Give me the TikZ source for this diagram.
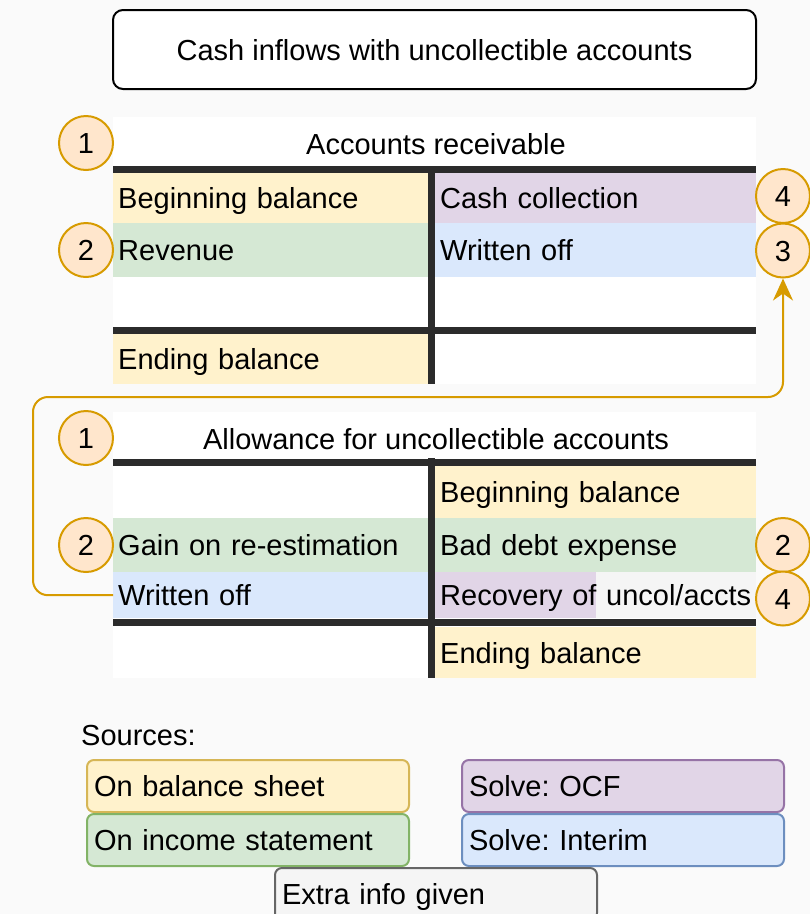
\documentclass[tikz,border=0pt]{standalone}
\usepackage{fontspec}
\setmainfont{Liberation Sans}
\usetikzlibrary{arrows.meta}
\definecolor{bggray}{HTML}{FAFAFA}
\definecolor{cyellow}{HTML}{FFF2CC}
\definecolor{cgreen}{HTML}{D5E8D4}
\definecolor{cpurple}{HTML}{E1D5E7}
\definecolor{cblue}{HTML}{DAE8FC}
\definecolor{cgray}{HTML}{F5F5F5}
\definecolor{syellow}{HTML}{D6B656}
\definecolor{sgreen}{HTML}{82B366}
\definecolor{spurple}{HTML}{9673A6}
\definecolor{sblue}{HTML}{6C8EBF}
\definecolor{sgray}{HTML}{666666}
\definecolor{corange}{HTML}{FFE6CC}
\definecolor{sorange}{HTML}{D79B00}
\definecolor{tline}{HTML}{2B2B2B}
\begin{document}
\begin{tikzpicture}[x=1pt,y=-1pt,
  font=\fontsize{29}{34}\selectfont\frenchspacing,
  txt/.style={text height=21pt,text depth=0pt,inner sep=0pt},
  lcell/.style={txt,rectangle,anchor=north west,inner xsep=5pt,text width=305pt,align=left},
  rcell/.style={txt,rectangle,anchor=north west,inner xsep=5pt,text width=311pt,align=left},
  badge/.style={txt,circle,draw=sorange,fill=corange,line width=2pt,minimum size=54pt},
  tbar/.style={draw=tline,line width=7pt},
  legend/.style={txt,rectangle,rounded corners=7pt,line width=2pt,anchor=north west,
    inner xsep=7pt,text width=308pt,align=left,minimum height=52pt},
  arr/.style={draw=sorange,line width=2pt,rounded corners=15pt,
    -{Stealth[length=22pt,width=20pt,inset=7pt]}}
]
\useasboundingbox[fill=bggray] (0,0) rectangle (810,914);

% title
\node[txt,draw=black,fill=white,line width=2pt,rounded corners=10pt,
  minimum width=643pt,minimum height=79pt] (title) at (434.5,49.5)
  {Cash inflows with uncollectible accounts};

% ---------- Accounts receivable ----------
\fill[white] (113,117) rectangle (756,384);
\node[txt] (artitle) at (436,144) {Accounts receivable};
\node[lcell,fill=cyellow,minimum height=50pt] (arbb) at (113,173) {Beginning balance};
\node[lcell,fill=cgreen,minimum height=54pt] (arrev) at (113,223) {Revenue};
\node[rcell,fill=cpurple,minimum height=50pt] (arcc) at (435,173) {Cash collection};
\node[rcell,fill=cblue,minimum height=54pt] (arwo) at (435,223) {Written off};
\node[lcell,fill=cyellow,minimum height=50pt] (areb) at (113,334) {Ending balance};
\coordinate (art1) at (113,169.5);
\coordinate (art2) at (756,169.5);
\coordinate (arm1) at (113,330);
\coordinate (arm2) at (756,330);
\coordinate (arv1) at (431.5,166);
\coordinate (arv2) at (431.5,384);
\draw[tbar] (art1) -- (art2);
\draw[tbar] (arm1) -- (arm2);
\draw[tbar] (arv1) -- (arv2);

% ---------- Allowance ----------
\fill[white] (113,412) rectangle (756,678);
\node[txt] (altitle) at (436,439) {Allowance for uncollectible accounts};
\node[rcell,fill=cyellow,minimum height=52pt] (albb) at (435,466) {Beginning balance};
\node[lcell,fill=cgreen,minimum height=54pt] (algain) at (113,518) {Gain on re-estimation};
\node[rcell,fill=cgreen,minimum height=54pt] (albad) at (435,518) {Bad debt expense};
\node[lcell,fill=cblue,minimum height=46pt] (alwo) at (113,572) {Written off};
\node[rcell,fill=cgray,minimum height=46pt,
  path picture={\fill[cpurple] (path picture bounding box.north west) rectangle
    ([xshift=161pt]path picture bounding box.south west);}] (alrec) at (435,572)
  {\mbox{Recovery of uncol/accts}\hss};
\node[rcell,fill=cyellow,minimum height=51pt] (aleb) at (435,627) {Ending balance};
\coordinate (alt1) at (113,462);
\coordinate (alt2) at (756,462);
\coordinate (alm1) at (113,622.5);
\coordinate (alm2) at (756,622.5);
\coordinate (alv1) at (431.5,458);
\coordinate (alv2) at (431.5,678);
\draw[tbar] (alt1) -- (alt2);
\draw[tbar] (alm1) -- (alm2);
\draw[tbar] (alv1) -- (alv2);

% ---------- badges ----------
\node[badge] (b1a) at (86,143) {1};
\node[badge] (b2a) at (86,250) {2};
\node[badge] (b4a) at (783,196) {4};
\node[badge] (b3a) at (783,250.5) {3};
\node[badge] (b1b) at (86,438) {1};
\node[badge] (b2b) at (86,545) {2};
\node[badge] (b2c) at (783,545) {2};
\node[badge] (b4b) at (783,598.5) {4};

% connector
\coordinate (bendl) at (33,397);
\draw[arr] (alwo.west) -| (bendl) -| (b3a.south);

% ---------- legend ----------
\node[txt,anchor=west] (src) at (81,735) {Sources:};
\node[legend,fill=cyellow,draw=syellow] (lgbs) at (86,759) {On balance sheet};
\node[legend,fill=cgreen,draw=sgreen] (lgis) at (86,813) {On income statement};
\node[legend,fill=cpurple,draw=spurple] (lgocf) at (461,759) {Solve: OCF};
\node[legend,fill=cblue,draw=sblue] (lgint) at (461,813) {Solve: Interim};
\node[legend,fill=cgray,draw=sgray] (lgex) at (274,867) {Extra info given};
\end{tikzpicture}
\end{document}
